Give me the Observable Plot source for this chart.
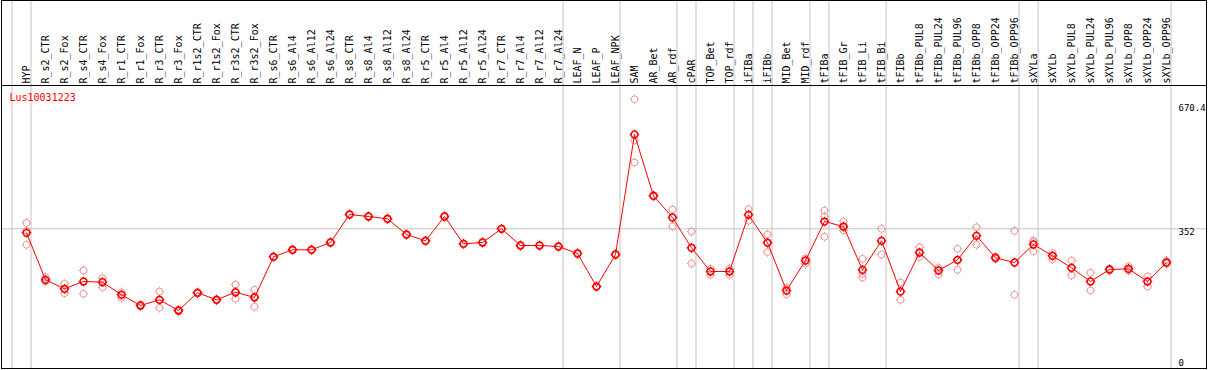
<!DOCTYPE html>
<html>
<head>
<meta charset="utf-8">
<script src="https://cdn.jsdelivr.net/npm/d3@7"></script>
<script src="https://cdn.jsdelivr.net/npm/@observablehq/plot@0.6"></script>
<style>
  html, body { margin: 0; padding: 0; background: #fff; }
</style>
</head>
<body>
<div id="chart"></div>
<script>
const geneName = "Lus10031223";

const columns = ["HYP","R_s2_CTR","R_s2_Fox","R_s4_CTR","R_s4_Fox","R_r1_CTR","R_r1_Fox","R_r3_CTR","R_r3_Fox",
  "R_r1s2_CTR","R_r1s2_Fox","R_r3s2_CTR","R_r3s2_Fox","R_s6_CTR","R_s6_Al4","R_s6_Al12","R_s6_Al24",
  "R_s8_CTR","R_s8_Al4","R_s8_Al12","R_s8_Al24","R_r5_CTR","R_r5_Al4","R_r5_Al12","R_r5_Al24",
  "R_r7_CTR","R_r7_Al4","R_r7_Al12","R_r7_Al24","LEAF_N","LEAF_P","LEAF_NPK","SAM","AR_Bet","AR_rdf",
  "cPAR","TOP_Bet","TOP_rdf","iFIBa","iFIBb","MID_Bet","MID_rdf","tFIBa","tFIB_Gr","tFIB_Li","tFIB_Bi",
  "tFIBb","tFIBb_PUL8","tFIBb_PUL24","tFIBb_PUL96","tFIBb_OPP8","tFIBb_OPP24","tFIBb_OPP96",
  "sXYLa","sXYLb","sXYLb_PUL8","sXYLb_PUL24","sXYLb_PUL96","sXYLb_OPP8","sXYLb_OPP24","sXYLb_OPP96"];

const means = [341.7,221.3,198.3,217.0,215.2,182.9,155.5,170.1,142.7,188.0,170.1,189.5,176.0,280.2,298.2,298.2,
  316.9,388.6,383.5,377.6,337.3,321.2,383.5,313.5,316.9,351.9,309.2,309.2,306.6,288.7,204.1,286.1,593.5,436.5,
  380.9,303.3,242.6,242.6,387.8,316.1,193.9,270.7,370.6,357.8,246.9,321.2,191.3,291.2,245.1,272.5,334.0,277.7,
  265.6,311.7,282.8,252.0,217.0,247.7,249.5,217.0,265.6];

const rep1 = [367.3,228.0,211.1,245.1,225.4,189.5,158.0,191.3,145.2,190.0,172.0,209.3,195.7,282.0,300.0,299.5,
  318.5,390.0,385.0,379.0,339.0,323.0,385.5,315.0,318.5,353.5,311.0,310.5,308.0,290.5,206.0,288.0,683.9,438.5,
  401.4,345.0,249.5,249.5,402.2,337.3,200.8,276.6,398.8,371.4,275.1,351.9,214.4,304.8,252.0,300.7,356.0,281.0,
  346.8,322.0,289.5,270.7,239.2,250.3,255.4,229.8,270.7];

const rep2 = [311.0,217.0,187.0,185.5,202.4,175.2,153.0,149.6,140.1,186.2,168.3,172.6,152.2,278.5,296.5,297.0,
  315.5,387.0,382.0,376.0,335.5,319.5,381.5,312.0,315.0,350.5,307.5,308.0,305.0,287.0,202.5,284.5,521.8,434.5,
  357.8,263.1,234.1,234.1,372.4,292.0,184.4,262.3,331.5,347.6,227.2,286.1,170.1,279.2,234.9,246.9,311.0,274.6,
  182.9,294.6,274.1,233.1,193.9,245.1,245.1,204.1,262.3];

const rep3 = [347.0,219.0,196.5,217.0,217.0,183.7,155.5,169.6,142.7,188.0,170.0,187.5,179.8,280.0,298.0,298.0,
  317.0,388.8,383.5,377.8,337.4,321.0,383.5,313.4,317.0,351.8,309.0,309.0,306.7,288.6,203.8,285.9,578.1,436.5,
  380.9,303.3,242.6,242.6,388.6,318.0,193.9,270.7,383.5,355.0,236.7,322.0,191.3,290.0,246.0,270.7,334.8,277.7,
  265.6,318.0,282.8,252.0,217.0,247.7,248.9,217.0,265.6];

// separators are drawn after these columns (plus one before the first column)
const groupEnds = ["HYP","R_r7_Al24","LEAF_NPK","AR_rdf","cPAR","TOP_rdf","iFIBa","iFIBb","MID_rdf",
  "tFIBa","tFIB_Bi","tFIBb_OPP96","sXYLa","sXYLb_OPP96"];

const yMax = 670.4;
const yRef = 352;
const yLabelsTop = [670.4, 352];
const yLabelsBottom = [0];

// ---- derived tables ----
const idx = columns.map((_, i) => i);
const reps = [];
[rep1, rep2, rep3].forEach(arr => arr.forEach((v, i) => reps.push({i, v})));
const sepOffset = 4.5 / 19;
const separators = [-1, ...groupEnds.map(n => columns.indexOf(n))].map(i => i + sepOffset);

const target = {
  draw(ctx, size) {
    const r = Math.sqrt(size / Math.PI);
    const t = 1.3;
    ctx.moveTo(r, 0);
    ctx.arc(0, 0, r, 0, 2 * Math.PI);
    ctx.moveTo(0, -r); ctx.lineTo(0, -r - t);
    ctx.moveTo(0, r); ctx.lineTo(0, r + t);
    ctx.moveTo(-r, 0); ctx.lineTo(-r - t, 0);
    ctx.moveTo(r, 0); ctx.lineTo(r + t, 0);
  }
};

const gray = "#c4c4c4";
const mono = "DejaVu Sans Mono";

const chart = Plot.plot({
  width: 1209,
  height: 370,
  marginTop: 85,
  marginBottom: 2,
  marginLeft: 1,
  marginRight: 3,
  style: {fontFamily: mono, fontSize: "10px", background: "#fff", overflow: "visible"},
  x: {type: "linear", domain: [0, columns.length - 1], range: [26, 1166], axis: null},
  y: {domain: [0, yMax], range: [365.7, 104], axis: null},
  marks: [
    Plot.ruleX(separators, {x: d => d, stroke: gray, strokeWidth: 1, insetTop: -85}),
    Plot.ruleY([yRef], {stroke: gray, strokeWidth: 1}),
    Plot.frame({stroke: "#000", strokeWidth: 1, insetTop: -85}),
    Plot.frame({anchor: "top", stroke: "#000", strokeWidth: 1}),
    Plot.dot(reps, {x: "i", y: "v", symbol: target, r: 3.4, stroke: "#f09898", strokeWidth: 1, fill: "none"}),
    Plot.line(idx, {x: i => i, y: i => means[i], stroke: "#ff0000", strokeWidth: 1}),
    Plot.dot(idx, {x: i => i, y: i => means[i], symbol: target, r: 3.4, stroke: "#ff0000", strokeWidth: 1.5, fill: "none"}),
    Plot.text(columns, {x: (d, i) => i, text: d => d, frameAnchor: "top", rotate: -90,
      textAnchor: "start", lineAnchor: "middle", dy: -2, dx: 0, fill: "#000", fontFamily: mono, fontSize: 10}),
    Plot.text([geneName], {frameAnchor: "top-left", text: d => d, textAnchor: "start", lineAnchor: "top",
      dx: 8, dy: 8, fill: "#ff0000", fontFamily: mono, fontSize: 10}),
    Plot.text(yLabelsTop, {y: d => d, text: d => String(d), frameAnchor: "right", textAnchor: "start",
      lineAnchor: "top", dx: -28, dy: 0, fill: "#000", fontFamily: mono, fontSize: 9}),
    Plot.text(yLabelsBottom, {y: d => d, text: d => String(d), frameAnchor: "right", textAnchor: "start",
      lineAnchor: "bottom", dx: -28, dy: 0, fill: "#000", fontFamily: mono, fontSize: 9})
  ]
});
document.getElementById("chart").appendChild(chart);
</script>
</body>
</html>
